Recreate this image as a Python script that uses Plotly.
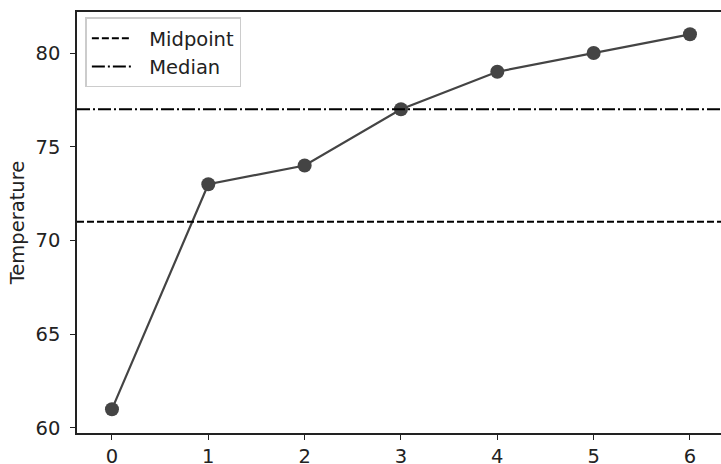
import plotly.graph_objects as go

x_vals = [0, 1, 2, 3, 4, 5, 6]
temps = [61, 73, 74, 77, 79, 80, 81]
midpoint = 71
median = 77
y_ticks = [60, 65, 70, 75, 80]

fig = go.Figure()
fig.add_trace(go.Scatter(
    x=x_vals, y=temps, mode="lines+markers",
    line=dict(color="#444444", width=2.2),
    marker=dict(color="#444444", size=14),
    showlegend=False,
))
fig.add_shape(type="line", xref="x domain", x0=0, x1=1, yref="y", y0=midpoint, y1=midpoint,
              line=dict(color="black", width=2, dash="7px,3px"),
              showlegend=True, name="\u00a0\u00a0Midpoint")
fig.add_shape(type="line", xref="x domain", x0=0, x1=1, yref="y", y0=median, y1=median,
              line=dict(color="black", width=2, dash="13px,3px,2px,3px"),
              showlegend=True, name="\u00a0\u00a0Median")

font = dict(family="DejaVu Sans", size=19.5, color="#222222")
fig.update_layout(
    width=721, height=464,
    margin=dict(l=77, r=0, t=12, b=31),
    plot_bgcolor="white", paper_bgcolor="white",
    font=font,
    xaxis=dict(range=[-0.363, 6.322], tickvals=x_vals, showgrid=False, zeroline=False,
               showline=True, linecolor="#222222", linewidth=1.5, mirror=True,
               ticks="outside", ticklen=5, tickcolor="#222222", tickfont=font,
               ticklabelstandoff=0, automargin=False),
    yaxis=dict(range=[59.73, 82.19], tickvals=y_ticks, showgrid=False, zeroline=False,
               showline=True, linecolor="#222222", linewidth=1.5,
               ticks="outside", ticklen=5, tickcolor="#222222", tickfont=font,
               ticklabelstandoff=6, automargin=False,
               title=dict(text="Temperature", font=font, standoff=6)),
    legend=dict(x=0.013, y=0.987, xanchor="left", yanchor="top",
                bgcolor="rgba(255,255,255,0.8)", bordercolor="#cccccc", borderwidth=1.5,
                font=font, itemwidth=40),
)
fig.write_html("out.html")
